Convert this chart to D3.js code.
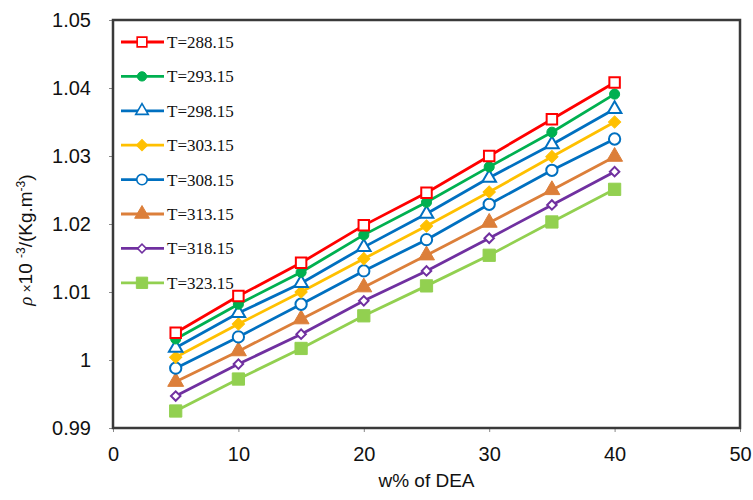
<!DOCTYPE html>
<html>
<head>
<meta charset="utf-8">
<script src="https://cdn.jsdelivr.net/npm/d3@7"></script>
<style>
  body { margin: 0; background: #fff; }
  .tick text { font-family: Arial, "Liberation Sans", sans-serif; font-size: 20px; fill: #111; }
  .axis-title { font-family: Arial, "Liberation Sans", sans-serif; fill: #111; }
  .legend text { font-family: "Times New Roman", "Liberation Serif", serif; font-size: 17px; fill: #111; }
</style>
</head>
<body>
<div id="chart"></div>
<script>
const margin = { top: 20, right: 13, bottom: 72, left: 113 };
const width = 753 - margin.left - margin.right,
      height = 500 - margin.top - margin.bottom;

// w% of DEA
const wDEA = [5, 10, 15, 20, 25, 30, 35, 40];
const temps = ['T=288.15', 'T=293.15', 'T=298.15', 'T=303.15', 'T=308.15', 'T=313.15', 'T=318.15', 'T=323.15'];

// density x 10^-3 per temperature
const rho288 = [1.0040, 1.0094, 1.0143, 1.0198, 1.0246, 1.0300, 1.0354, 1.0408];
const rho293 = [1.0031, 1.0082, 1.0129, 1.0184, 1.0232, 1.0284, 1.0335, 1.0391];
const rho298 = [1.0018, 1.0069, 1.0113, 1.0166, 1.0215, 1.0268, 1.0317, 1.0369];
const rho303 = [1.0004, 1.0053, 1.0100, 1.0149, 1.0197, 1.0247, 1.0299, 1.0350];
const rho308 = [0.9988, 1.0034, 1.0082, 1.0131, 1.0177, 1.0229, 1.0279, 1.0325];
const rho313 = [0.9968, 1.0013, 1.0060, 1.0107, 1.0154, 1.0202, 1.0250, 1.0299];
const rho318 = [0.9947, 0.9994, 1.0038, 1.0087, 1.0131, 1.0179, 1.0228, 1.0277];
const rho323 = [0.9925, 0.9972, 1.0017, 1.0065, 1.0109, 1.0154, 1.0203, 1.0251];

const xTicks = [0, 10, 20, 30, 40, 50];
const yTicks = [0.99, 1.00, 1.01, 1.02, 1.03, 1.04, 1.05];

const colors = ['#ff0000', '#00b050', '#0070c0', '#ffc000', '#0070c0', '#dc7f3a', '#7030a0', '#92d050'];
// marker shape, filled or open, size, rotation
const markers = [
  { sym: d3.symbolSquare, fill: false, size: 110, rot: 0 },
  { sym: d3.symbolCircle, fill: true, size: 80, rot: 0 },
  { sym: d3.symbolTriangle, fill: false, size: 80, rot: 0 },
  { sym: d3.symbolSquare, fill: true, size: 75, rot: 45 },
  { sym: d3.symbolCircle, fill: false, size: 100, rot: 0 },
  { sym: d3.symbolTriangle, fill: true, size: 110, rot: 0 },
  { sym: d3.symbolSquare, fill: false, size: 45, rot: 45 },
  { sym: d3.symbolSquare, fill: true, size: 150, rot: 0 }
];

const allSeries = [rho288, rho293, rho298, rho303, rho308, rho313, rho318, rho323].map((vals, i) => ({
  name: temps[i],
  color: colors[i],
  marker: markers[i],
  points: vals.map((v, j) => [wDEA[j], v])
}));

const xScale = d3.scaleLinear().domain([0, 50]).range([0, width]);
const yScale = d3.scaleLinear().domain([0.99, 1.05]).range([height, 0]);

const svg = d3.select('#chart').append('svg')
  .attr('width', width + margin.left + margin.right)
  .attr('height', height + margin.top + margin.bottom);

const g = svg.append('g')
  .attr('transform', 'translate(' + margin.left + ',' + margin.top + ')');

// axes
const yAxis = d3.axisLeft(yScale).tickValues(yTicks).tickSize(4).tickPadding(18)
  .tickFormat(d => String(+d.toFixed(2)));
const xAxis = d3.axisBottom(xScale).tickValues(xTicks).tickSize(4).tickPadding(15);

g.append('g').call(yAxis)
  .call(s => s.select('.domain').remove())
  .call(s => s.selectAll('.tick line').attr('stroke', '#888'));
g.append('g').attr('transform', 'translate(0,' + height + ')').call(xAxis)
  .call(s => s.select('.domain').remove())
  .call(s => s.selectAll('.tick line').attr('stroke', '#888'));

// frame
g.append('rect')
  .attr('width', width).attr('height', height)
  .attr('fill', 'none').attr('stroke', '#3a3a3a').attr('stroke-width', 2.5);

const line = d3.line().x(d => xScale(d[0])).y(d => yScale(d[1]));

const seriesG = g.selectAll('g.series').data(allSeries.slice().reverse())
  .enter().append('g').attr('class', 'series');

seriesG.append('path')
  .attr('d', d => line(d.points))
  .attr('fill', 'none')
  .attr('stroke', d => d.color)
  .attr('stroke-width', 2.8);

seriesG.each(function(s) {
  d3.select(this).selectAll('path.mark').data(s.points)
    .enter().append('path')
      .attr('class', 'mark')
      .attr('transform', d => 'translate(' + xScale(d[0]) + ',' + yScale(d[1]) + ') rotate(' + s.marker.rot + ')')
      .attr('d', d3.symbol().type(s.marker.sym).size(s.marker.size))
      .attr('fill', s.marker.fill ? s.color : '#fff')
      .attr('stroke', s.color)
      .attr('stroke-width', s.marker.fill ? 1 : 2);
});

// legend
const legend = g.append('g').attr('class', 'legend')
  .attr('transform', 'translate(8,22)');
const rows = legend.selectAll('g').data(allSeries).enter().append('g')
  .attr('transform', (d, i) => 'translate(0,' + (i * 34.4) + ')');
rows.append('line')
  .attr('x1', 0).attr('x2', 43)
  .attr('stroke', d => d.color).attr('stroke-width', 2.8);
rows.append('path')
  .attr('transform', d => 'translate(21,0) rotate(' + d.marker.rot + ')')
  .attr('d', d => d3.symbol().type(d.marker.sym).size(d.marker.size * 0.85)())
  .attr('fill', d => d.marker.fill ? d.color : '#fff')
  .attr('stroke', d => d.color)
  .attr('stroke-width', d => d.marker.fill ? 1 : 1.6);
rows.append('text')
  .attr('x', 46).attr('dy', '0.35em')
  .text(d => d.name);

// axis titles
svg.append('text')
  .attr('class', 'axis-title')
  .attr('x', margin.left + width / 2)
  .attr('y', 487)
  .attr('text-anchor', 'middle')
  .style('font-size', '19px')
  .text('w% of DEA');

const yt = svg.append('text')
  .attr('class', 'axis-title')
  .attr('text-anchor', 'middle')
  .attr('transform', 'translate(32,240) rotate(-90)')
  .style('font-size', '19px');
yt.append('tspan').style('font-style', 'italic').style('font-family', '"Times New Roman", "Liberation Serif", serif').text('ρ');
yt.append('tspan').style('font-size', '14px').text(' ×');
yt.append('tspan').text('10 ');
yt.append('tspan').attr('dy', -7).style('font-size', '12px').text('-3');
yt.append('tspan').attr('dy', 7).text('/(Kg.m');
yt.append('tspan').attr('dy', -7).style('font-size', '12px').text('-3');
yt.append('tspan').attr('dy', 7).text(')');
</script>
</body>
</html>
